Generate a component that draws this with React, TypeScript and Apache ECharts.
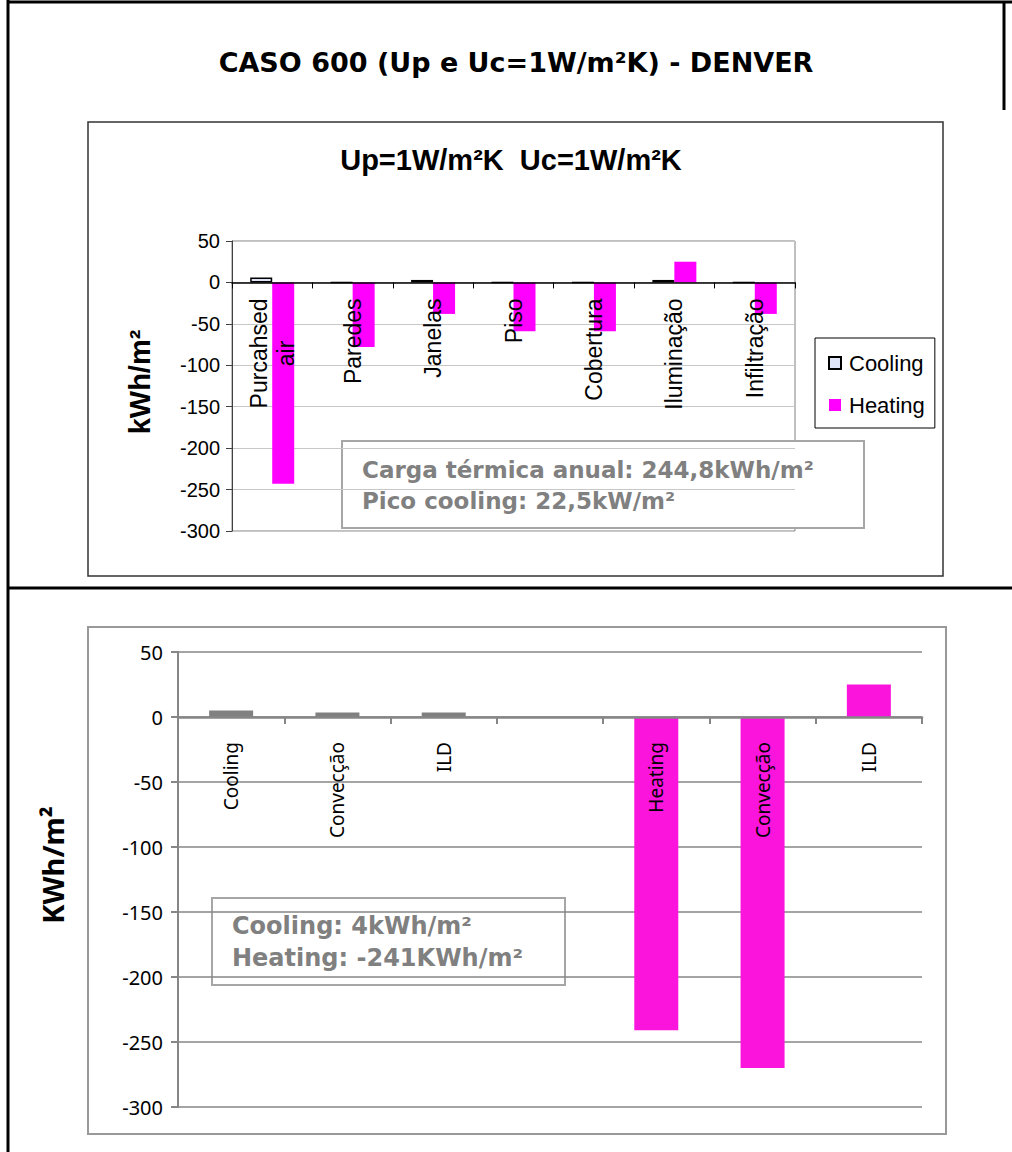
import React, { useEffect, useRef } from "react";
import * as echarts from "echarts";

// ---------- data ----------
const mainTitle = "CASO 600 (Up e Uc=1W/m²K) - DENVER";
const topTitle = "Up=1W/m²K  Uc=1W/m²K";
const topCategories = ["Purcahsed air", "Paredes", "Janelas", "Piso", "Cobertura", "Iluminação", "Infiltração"];
const topCooling = [6, 0, 3, 0, 0, 3, 0];
const topHeating = [-243, -78, -38, -59, -59, 25, -38];
const topAxisName = "kWh/m²";
const topNote = ["Carga térmica anual: 244,8kWh/m²", "Pico cooling: 22,5kW/m²"];

const bottomCategories = ["Cooling", "Convecção", "ILD", "", "Heating", "Convecção", "ILD"];
const bottomCooling = [5, 3.5, 3.5, null, null, null, null];
const bottomHeating = [null, null, null, null, -241, -270, 25];
const bottomAxisName = "KWh/m²";
const bottomNote = ["Cooling: 4kWh/m²", "Heating: -241KWh/m²"];

const yMin = -300;
const yMax = 50;
const yStep = 50;

const ARIAL = "'Liberation Sans', Arial, sans-serif";
const VERDANA = "'DejaVu Sans', Verdana, sans-serif";
const CALIBRI = "'Noto Sans', 'Open Sans', sans-serif";

// layout
const TOP_GRID = { left: 232, top: 241, width: 563, height: 290 };
const BOT_GRID = { left: 178, top: 652, width: 744, height: 455 };

export default function App() {
  const ref = useRef<HTMLDivElement>(null);

  useEffect(() => {
    if (!ref.current) return;
    const chart = echarts.init(ref.current, null, { renderer: "svg" });

    const zeroFrac = (0 - yMin) / (yMax - yMin);
    const topOffset = -TOP_GRID.height * zeroFrac;
    const botOffset = -BOT_GRID.height * zeroFrac;

    const labelFmt = (v: string) =>
      v
        .split(" ")
        .map((w) => "{c|" + w + "}")
        .join(v === "Purcahsed air" ? "\n" : " ");

    const option: any = {
      animation: false,
      backgroundColor: "#fff",
      legend: {
        data: ["Cooling", "Heating"],
        orient: "vertical",
        left: 815,
        top: 338,
        padding: [12, 10, 10, 13],
        itemGap: 16,
        itemWidth: 12,
        itemHeight: 12,
        icon: "rect",
        borderColor: "#000",
        borderWidth: 1,
        backgroundColor: "#fff",
        textStyle: { fontFamily: ARIAL, fontSize: 22, color: "#000", lineHeight: 26, padding: [0, 0, 0, 3] },
      },
      grid: [
        { ...TOP_GRID, show: true, borderColor: "#808080", borderWidth: 1, outerBoundsMode: "none", containLabel: false },
        { ...BOT_GRID, outerBoundsMode: "none", containLabel: false },
      ],
      xAxis: [
        {
          type: "category",
          gridIndex: 0,
          data: topCategories,
          offset: topOffset,
          z: 10,
          axisLine: { onZero: false, lineStyle: { color: "#000", width: 1.5 } },
          axisTick: { show: true, length: 6, lineStyle: { color: "#000" } },
          axisLabel: {
            rotate: 90,
            margin: 16,
            interval: 0,
            hideOverlap: false,
            formatter: labelFmt,
            rich: { c: { fontFamily: ARIAL, fontSize: 23, color: "#000", align: "center", lineHeight: 27 } },
          },
        },
        {
          type: "category",
          gridIndex: 1,
          data: bottomCategories,
          offset: botOffset,
          z: 10,
          axisLine: { onZero: false, lineStyle: { color: "#868686", width: 2.5 } },
          axisTick: { show: true, length: 7, lineStyle: { color: "#868686", width: 2 } },
          axisLabel: {
            rotate: 90,
            margin: 25,
            interval: 0,
            hideOverlap: false,
            fontFamily: CALIBRI,
            fontSize: 19,
            color: "#000",
          },
        },
      ],
      yAxis: [
        {
          type: "value",
          gridIndex: 0,
          min: yMin,
          max: yMax,
          interval: yStep,
          axisLine: { show: true, lineStyle: { color: "#404040", width: 1 } },
          axisTick: { show: true, length: 6, lineStyle: { color: "#404040" } },
          axisLabel: { fontFamily: ARIAL, fontSize: 20, color: "#000", margin: 12 },
          splitLine: { lineStyle: { color: "#c8c8c8", width: 1 } },
        },
        {
          type: "value",
          gridIndex: 1,
          min: yMin,
          max: yMax,
          interval: yStep,
          axisLine: { show: true, lineStyle: { color: "#868686", width: 2 } },
          axisTick: { show: true, length: 7, lineStyle: { color: "#868686", width: 2 } },
          axisLabel: { fontFamily: CALIBRI, fontSize: 20, color: "#000", margin: 15 },
          splitLine: { lineStyle: { color: "#868686", width: 1.5 } },
        },
      ],
      series: [
        {
          name: "Cooling",
          type: "bar",
          xAxisIndex: 0,
          yAxisIndex: 0,
          data: topCooling,
          barWidth: 22,
          barGap: "0%",
          itemStyle: { color: "#dfe5f6", borderColor: "#000", borderWidth: 1.5 },
        },
        {
          name: "Heating",
          type: "bar",
          xAxisIndex: 0,
          yAxisIndex: 0,
          data: topHeating,
          barWidth: 22,
          barGap: "0%",
          itemStyle: { color: "#ff00ff" },
        },
        {
          name: "Cooling total",
          type: "bar",
          xAxisIndex: 1,
          yAxisIndex: 1,
          data: bottomCooling,
          barWidth: 44,
          barGap: "-100%",
          itemStyle: { color: "#808080" },
        },
        {
          name: "Heating total",
          type: "bar",
          xAxisIndex: 1,
          yAxisIndex: 1,
          data: bottomHeating,
          barWidth: 44,
          barGap: "-100%",
          itemStyle: { color: "#fa14dc" },
        },
      ],
      graphic: [
        // outer frame
        { type: "line", shape: { x1: 8, y1: 0, x2: 8, y2: 1152 }, style: { stroke: "#000", lineWidth: 3 } },
        { type: "line", shape: { x1: 8, y1: 2, x2: 1012, y2: 2 }, style: { stroke: "#000", lineWidth: 3 } },
        { type: "line", shape: { x1: 1004, y1: 2, x2: 1004, y2: 110 }, style: { stroke: "#000", lineWidth: 3 } },
        { type: "line", shape: { x1: 8, y1: 588, x2: 1012, y2: 588 }, style: { stroke: "#000", lineWidth: 3 } },
        // chart boxes
        { type: "rect", shape: { x: 88, y: 122, width: 855, height: 454 }, style: { fill: "none", stroke: "#333", lineWidth: 1.5 } },
        { type: "rect", shape: { x: 88, y: 627, width: 858, height: 507 }, style: { fill: "none", stroke: "#999", lineWidth: 2 } },
        // titles
        {
          type: "text",
          x: 516,
          y: 62,
          style: { text: mainTitle, fontFamily: VERDANA, fontWeight: "bold", fontSize: 27, fill: "#000", align: "center", verticalAlign: "middle" },
        },
        {
          type: "text",
          x: 511,
          y: 160,
          style: { text: topTitle, fontFamily: ARIAL, fontWeight: "bold", fontSize: 29, fill: "#000", align: "center", verticalAlign: "middle" },
        },
        // axis names
        {
          type: "text",
          x: 140,
          y: 382,
          rotation: Math.PI / 2,
          style: { text: topAxisName, fontFamily: ARIAL, fontWeight: "bold", fontSize: 29, fill: "#000", align: "center", verticalAlign: "middle" },
        },
        {
          type: "text",
          x: 52,
          y: 865,
          rotation: Math.PI / 2,
          style: { text: bottomAxisName, fontFamily: CALIBRI, fontWeight: "bold", fontSize: 29, fill: "#000", align: "center", verticalAlign: "middle" },
        },
        // annotation boxes
        {
          type: "group",
          z: 100,
          children: [
            { type: "rect", shape: { x: 342, y: 441, width: 522, height: 87 }, style: { fill: "#fff", stroke: "#a6a6a6", lineWidth: 2 } },
            {
              type: "text",
              x: 362,
              y: 485,
              style: { text: topNote.join("\n"), fontFamily: VERDANA, fontWeight: "bold", fontSize: 23, lineHeight: 31, fill: "#808080", align: "left", verticalAlign: "middle" },
            },
            { type: "rect", shape: { x: 212, y: 898, width: 353, height: 87 }, style: { fill: "#fff", stroke: "#a6a6a6", lineWidth: 2 } },
            {
              type: "text",
              x: 232,
              y: 942,
              style: { text: bottomNote.join("\n"), fontFamily: VERDANA, fontWeight: "bold", fontSize: 24, lineHeight: 32, fill: "#808080", align: "left", verticalAlign: "middle" },
            },
          ],
        },
      ],
    };

    chart.setOption(option);
    return () => chart.dispose();
  }, []);

  return <div ref={ref} style={{ position: "absolute", left: 0, top: 0, width: 1012, height: 1152 }} />;
}
